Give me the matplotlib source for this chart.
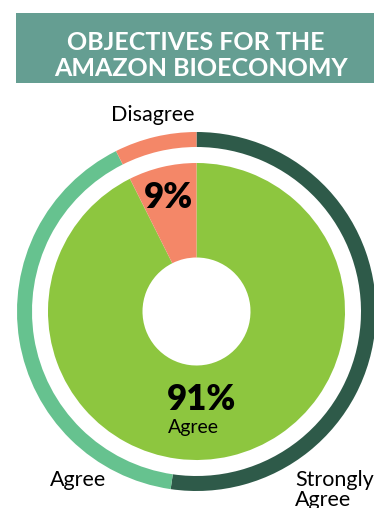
import matplotlib
matplotlib.use("Agg")
import matplotlib.pyplot as plt
from matplotlib.patches import Rectangle

# ---- data ----
title_lines = ["OBJECTIVES FOR THE", "AMAZON BIOECONOMY"]
inner_categories = ["Agree", "Disagree"]
inner_shares = [92.6, 7.4]          # wedge sizes as drawn
inner_labels = ["91%", "9%"]
outer_categories = ["Strongly\nAgree", "Agree", "Disagree"]
outer_shares = [52.3, 40.3, 7.4]

inner_colors = ["#8dc63f", "#f48768"]
outer_colors = ["#2e5a49", "#66c28f", "#f48768"]

W, H = 374, 508
fig = plt.figure(figsize=(W / 100, H / 100), dpi=100)
ax = fig.add_axes([0, 0, 1, 1])

def Y(y):
    return H - y

FONT = ["Lato", "DejaVu Sans"]

cx, cy = 196.5, Y(311.5)

ax.pie(outer_shares, colors=outer_colors, startangle=90, counterclock=False,
       radius=179.5, center=(cx, cy), frame=True,
       wedgeprops=dict(width=15, linewidth=0, edgecolor="none"))
ax.pie(inner_shares, colors=inner_colors, startangle=90, counterclock=False,
       radius=148.5, center=(cx, cy), frame=True,
       wedgeprops=dict(width=94.5, linewidth=0, edgecolor="none"))
ax.set_xlim(0, W)
ax.set_ylim(0, H)
ax.set_aspect("equal")
ax.axis("off")

# title banner
ax.add_patch(Rectangle((16, Y(83)), W - 16, 70, color="#659e92", lw=0))
ax.text(196, Y(43), title_lines[0], ha="center", va="center", color="white",
        fontsize=18, fontweight="bold", family=FONT)
ax.text(201, Y(68), title_lines[1], ha="center", va="center", color="white",
        fontsize=18, fontweight="bold", family=FONT)

# inner labels
ax.text(168, Y(198), inner_labels[1], ha="center", va="center", fontsize=25,
        fontweight="heavy", family=FONT, color="black")
ax.text(202, Y(400), inner_labels[0], ha="center", va="center", fontsize=25,
        fontweight="heavy", family=FONT, color="black")
ax.text(193, Y(428), inner_categories[0], ha="center", va="center", fontsize=14,
        family=FONT, color="black")

# outer labels
ax.text(153, Y(115), outer_categories[2], ha="center", va="center", fontsize=15.5,
        family=FONT, color="black")
ax.text(78, Y(480), outer_categories[1], ha="center", va="center", fontsize=15.5,
        family=FONT, color="black")
sa_lines = outer_categories[0].split("\n")
ax.text(295, Y(480), sa_lines[0], ha="left", va="center", fontsize=15.5,
        family=FONT, color="black")
ax.text(295, Y(500), sa_lines[1], ha="left", va="center", fontsize=15.5,
        family=FONT, color="black")

fig.savefig("out.png", dpi=100)
